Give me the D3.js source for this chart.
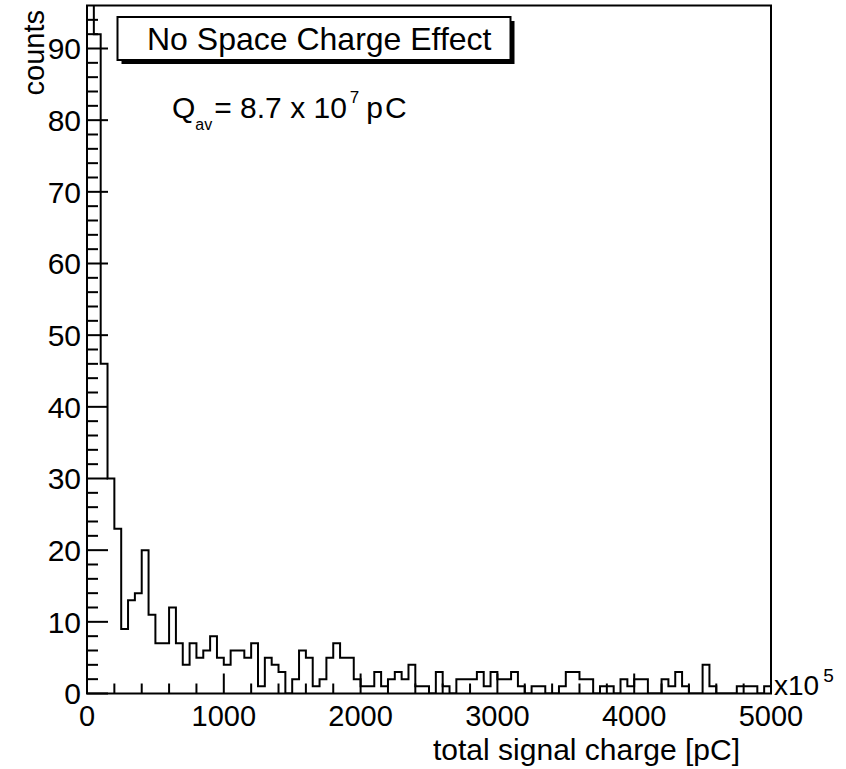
<!DOCTYPE html>
<html>
<head>
<meta charset="utf-8">
<script src="https://cdn.jsdelivr.net/npm/d3@7"></script>
<style>
  html, body { margin: 0; padding: 0; background: #fff; }
  svg { display: block; }
  text { font-family: "Liberation Sans", Arial, Helvetica, sans-serif; fill: #000; }
</style>
</head>
<body>
<svg id="chart" width="846" height="769"></svg>
<script>
// ---- data (x in units of 10^5 pC, 100 bins of width 50) ----
const binWidth = 50;
const xRange = [0, 5000];
const yRange = [0, 96];
const counts = [
  100, 92, 46, 30, 23, 9, 13, 14, 20, 11,
  7, 7, 12, 7, 4, 7, 5, 6, 8, 5,
  4, 6, 6, 5, 7, 1, 5, 4, 3, 0,
  2, 6, 5, 1, 2, 5, 7, 5, 5, 2,
  1, 1, 3, 1, 2, 3, 2, 4, 1, 1,
  0, 3, 1, 0, 2, 2, 2, 3, 1, 3,
  2, 2, 3, 1, 0, 1, 1, 0, 0, 1,
  3, 3, 2, 2, 0, 1, 1, 0, 2, 1,
  2, 2, 0, 0, 2, 1, 3, 1, 0, 0,
  4, 1, 0, 0, 0, 1, 1, 1, 0, 1
];
const xTickValues = [0, 1000, 2000, 3000, 4000, 5000];
const yTickValues = [0, 10, 20, 30, 40, 50, 60, 70, 80, 90];
const legendLabel = "No Space Charge Effect";
const xTitle = "total signal charge [pC]";
const yTitle = "counts";

// ---- layout ----
const svg = d3.select("#chart");
const frame = { left: 87, right: 771, top: 5.5, bottom: 693.5 };

const x = d3.scaleLinear().domain(xRange).range([frame.left, frame.right]);
const y = d3.scaleLinear().domain(yRange).range([frame.bottom, frame.top]);

// clip
svg.append("defs").append("clipPath").attr("id", "clip")
  .append("rect")
  .attr("x", frame.left).attr("y", frame.top)
  .attr("width", frame.right - frame.left).attr("height", frame.bottom - frame.top);

// histogram step line
const pts = [[xRange[0], 0]];
counts.forEach((c, i) => {
  pts.push([xRange[0] + i * binWidth, c]);
  pts.push([xRange[0] + (i + 1) * binWidth, c]);
});
pts.push([xRange[1], 0]);
const line = d3.line().x(d => x(d[0])).y(d => y(d[1]));
svg.append("path")
  .attr("d", line(pts))
  .attr("fill", "none")
  .attr("stroke", "#000")
  .attr("stroke-width", 2)
  .attr("clip-path", "url(#clip)");

// frame
svg.append("rect")
  .attr("x", frame.left).attr("y", frame.top)
  .attr("width", frame.right - frame.left).attr("height", frame.bottom - frame.top)
  .attr("fill", "none").attr("stroke", "#000").attr("stroke-width", 2);

// y ticks (inside)
const yMinor = d3.range(0, 95, 2);
svg.append("g").selectAll("line").data(yMinor).join("line")
  .attr("x1", frame.left).attr("x2", d => frame.left + (d % 10 === 0 ? 21 : 11))
  .attr("y1", d => y(d)).attr("y2", d => y(d))
  .attr("stroke", "#000").attr("stroke-width", 2);
svg.append("g").selectAll("text").data(yTickValues).join("text")
  .attr("x", frame.left - 6).attr("y", d => y(d))
  .attr("dy", "0.36em")
  .attr("text-anchor", "end")
  .attr("font-size", 30)
  .text(d => d);

// x ticks (inside)
const xMinor = d3.range(0, 5001, 200);
svg.append("g").selectAll("line").data(xMinor).join("line")
  .attr("x1", d => x(d)).attr("x2", d => x(d))
  .attr("y1", frame.bottom).attr("y2", d => frame.bottom - (d % 1000 === 0 ? 20 : 10))
  .attr("stroke", "#000").attr("stroke-width", 2);
svg.append("g").selectAll("text").data(xTickValues).join("text")
  .attr("x", d => x(d)).attr("y", 726)
  .attr("text-anchor", "middle")
  .attr("font-size", 29)
  .text(d => d);

// x10^5
const expo = svg.append("text").attr("x", 774).attr("y", 695).attr("font-size", 28);
expo.append("tspan").text("x10");
expo.append("tspan").attr("font-size", 19).attr("dy", -13).attr("dx", 4).text("5");

// axis titles
svg.append("text")
  .attr("x", 433).attr("y", 760)
  .attr("font-size", 29)
  .attr("textLength", 307)
  .attr("lengthAdjust", "spacingAndGlyphs")
  .text(xTitle);
svg.append("text")
  .attr("transform", "translate(44,10) rotate(-90)")
  .attr("text-anchor", "end")
  .attr("font-size", 29)
  .text(yTitle);

// legend box with shadow
const lg = { x: 117.5, y: 17, w: 393, h: 43, sh: 4 };
svg.append("rect")
  .attr("x", lg.x + lg.sh).attr("y", lg.y + lg.sh)
  .attr("width", lg.w).attr("height", lg.h)
  .attr("fill", "#000");
svg.append("rect")
  .attr("x", lg.x).attr("y", lg.y)
  .attr("width", lg.w).attr("height", lg.h)
  .attr("fill", "#fff").attr("stroke", "#000").attr("stroke-width", 2);
svg.append("text")
  .attr("x", 147).attr("y", 50)
  .attr("font-size", 32)
  .text(legendLabel);

// annotation Q_av = 8.7 x 10^7 pC
const ann = svg.append("text").attr("x", 172).attr("y", 118).attr("font-size", 30);
ann.append("tspan").text("Q");
ann.append("tspan").attr("font-size", 16).attr("dy", 12).text("av");
ann.append("tspan").attr("dy", -12).attr("dx", 2).text("= 8.7 x 10");
ann.append("tspan").attr("font-size", 17).attr("dy", -15).attr("dx", 3).text("7");
ann.append("tspan").attr("dy", 15).attr("dx", 7).attr("letter-spacing", 2).text("pC");
</script>
</body>
</html>
